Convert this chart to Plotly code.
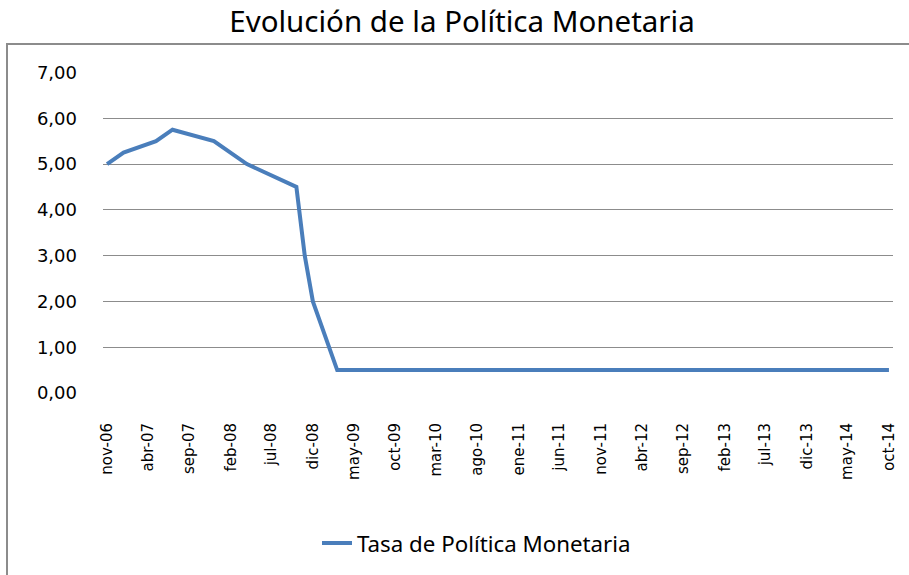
import plotly.graph_objects as go

# Data: rate change dates (Excel date axis) and values
fechas = ["2006-11-01", "2007-01-01", "2007-05-01", "2007-07-01", "2007-12-01",
          "2008-02-01", "2008-04-01", "2008-10-01", "2008-11-01", "2008-12-01",
          "2009-01-01", "2009-02-01", "2009-03-01", "2014-10-01"]
tasa = [5.00, 5.25, 5.50, 5.75, 5.50, 5.25, 5.00, 4.50, 3.00, 2.00, 1.50, 1.00, 0.50, 0.50]

tick_fechas = ["2006-11-01", "2007-04-01", "2007-09-01", "2008-02-01", "2008-07-01",
               "2008-12-01", "2009-05-01", "2009-10-01", "2010-03-01", "2010-08-01",
               "2011-01-01", "2011-06-01", "2011-11-01", "2012-04-01", "2012-09-01",
               "2013-02-01", "2013-07-01", "2013-12-01", "2014-05-01", "2014-10-01"]
tick_labels = ["nov-06", "abr-07", "sep-07", "feb-08", "jul-08", "dic-08", "may-09",
               "oct-09", "mar-10", "ago-10", "ene-11", "jun-11", "nov-11", "abr-12",
               "sep-12", "feb-13", "jul-13", "dic-13", "may-14", "oct-14"]
y_ticks = [0, 1, 2, 3, 4, 5, 6, 7]
y_labels = ["0,00", "1,00", "2,00", "3,00", "4,00", "5,00", "6,00", "7,00"]

fig = go.Figure()
fig.add_trace(go.Scatter(x=fechas, y=tasa, mode="lines", name="Tasa de Política Monetaria",
                         line=dict(color="#4a7ebb", width=4)))

L, R, T, B = 103, 16, 72, 181
W, H = 909, 575
pw, ph = W - L - R, H - T - B

fig.update_layout(
    width=W, height=H,
    margin=dict(l=L, r=R, t=T, b=B),
    paper_bgcolor="white", plot_bgcolor="white",
    title=dict(text="Evolución de la Política Monetaria", x=(462 - L) / pw, xref="paper",
               xanchor="center", y=1 - 22 / H, yanchor="middle",
               font=dict(family="Noto Sans", size=29.5, color="#000000")),
    showlegend=True,
    legend=dict(orientation="h", x=(317 - L) / pw, xanchor="left",
                y=(H - B - 543) / ph, yanchor="middle",
                font=dict(family="Noto Sans", size=22.3, color="#000000")),
    xaxis=dict(type="date", range=["2006-10-17", "2014-10-16"],
               tickvals=tick_fechas, ticktext=tick_labels, tickangle=-90,
               showgrid=False, zeroline=False, showline=False, ticks="",
               ticklabelstandoff=26,
               tickfont=dict(family="DejaVu Sans", size=15, color="#000000")),
    yaxis=dict(range=[0, 7.01], tickvals=y_ticks, ticktext=y_labels,
               showgrid=True, gridcolor="#8c8c8c", gridwidth=1,
               zeroline=False, showline=False, ticks="",
               ticklabelstandoff=25,
               tickfont=dict(family="DejaVu Sans", size=18, color="#000000")),
    shapes=[dict(type="rect", xref="paper", yref="paper",
                 x0=(7 - L) / pw, x1=(915 - L) / pw,
                 y0=(H - B - 590) / ph, y1=(H - B - 44) / ph,
                 line=dict(color="#8c8c8c", width=2), layer="below")],
)

fig.write_html("out.html", config={"displayModeBar": False},
               post_script="document.body.style.margin='0';")
